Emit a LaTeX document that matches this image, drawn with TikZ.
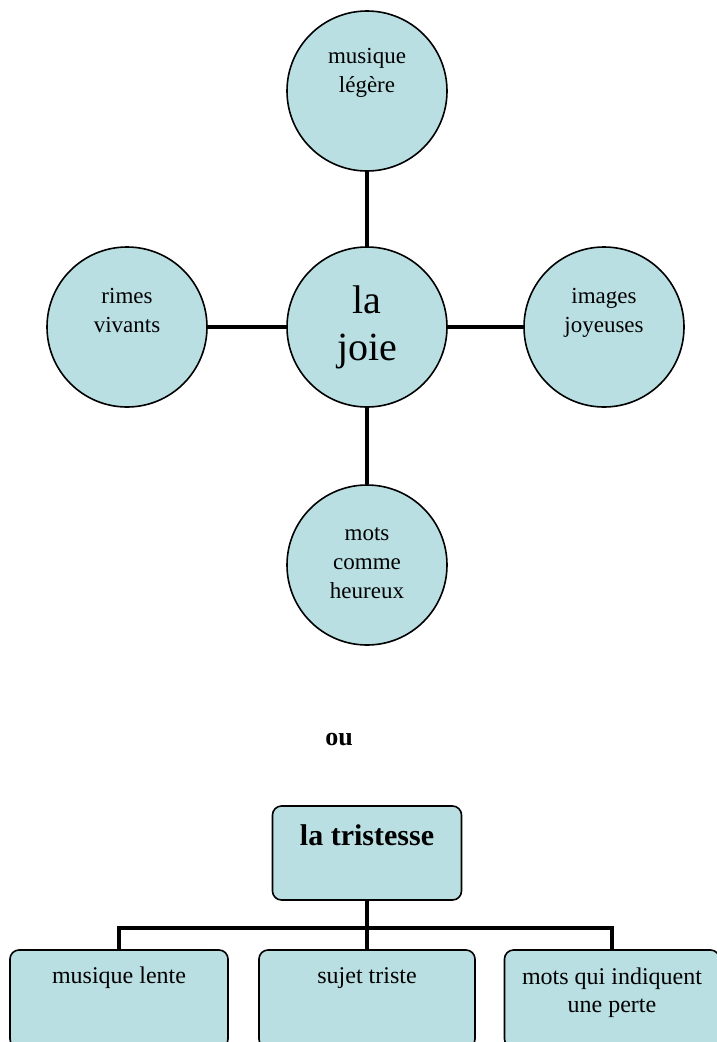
\documentclass[tikz,border=0pt]{standalone}
\usepackage{fontspec}
\setmainfont{Liberation Serif}
\definecolor{fillblue}{HTML}{B9DFE3}
\begin{document}
\begin{tikzpicture}[x=1pt,y=-1pt,
  bubble/.style={circle,draw=black,line width=1.6pt,fill=fillblue,minimum size=160pt,inner sep=0pt},
  boxnode/.style={rectangle,rounded corners=9pt,draw=black,line width=1.6pt,fill=fillblue,inner sep=0pt},
  conn/.style={line width=4pt,draw=black},
  smalltxt/.style={font=\fontsize{23}{29}\selectfont,align=center,inner sep=0pt,anchor=base},
  boxtxt/.style={font=\fontsize{24}{28}\selectfont,align=center,inner sep=0pt,anchor=base}]
\useasboundingbox (0,0) rectangle (716,1042);
% mind map
\node[bubble] (top) at (367,91) {};
\node[bubble] (joie) at (367,327) {};
\node[bubble] (left) at (127,327) {};
\node[bubble] (right) at (604,327) {};
\node[bubble] (bot) at (367,565) {};
\draw[conn] (top.south) -- (joie.north);
\draw[conn] (left.east) -- (joie.west);
\draw[conn] (joie.east) -- (right.west);
\draw[conn] (joie.south) -- (bot.north);
\node[smalltxt] (ttop) at (367,92) {musique\\légère};
\node[font=\fontsize{40}{47}\selectfont,align=center,inner sep=0pt,anchor=base] (tjoie) at (367,360) {la\\joie};
\node[smalltxt] (tleft) at (127,332) {rimes\\vivants};
\node[smalltxt] (tright) at (604,332) {images\\joyeuses};
\node[smalltxt] (tbot) at (367,598) {mots\\comme\\heureux};
% ou
\node[font=\fontsize{26}{30}\selectfont\bfseries,inner sep=0pt,anchor=base] (ou) at (339,745) {ou};
% tree
\node[boxnode,minimum width=189pt,minimum height=94pt] (trist) at (367,853) {};
\node[font=\fontsize{30}{34}\selectfont\bfseries,inner sep=0pt,anchor=base] (ttrist) at (367,845) {la tristesse};
\node[boxnode,minimum width=218pt,minimum height=98pt] (b1) at (119,999) {};
\node[boxnode,minimum width=216pt,minimum height=98pt] (b2) at (367,999) {};
\node[boxnode,minimum width=215pt,minimum height=98pt] (b3) at (612,999) {};
\coordinate (bar) at (367,928);
\draw[conn] (trist.south) -- (bar);
\draw[conn] (b1.north) |- (bar) -| (b3.north);
\draw[conn] (bar) -- (b2.north);
\node[boxtxt] (t1) at (119,983) {musique lente};
\node[boxtxt] (t2) at (367,983) {sujet triste};
\node[boxtxt] (t3) at (612,1012) {mots qui indiquent\\une perte};
\end{tikzpicture}
\end{document}
